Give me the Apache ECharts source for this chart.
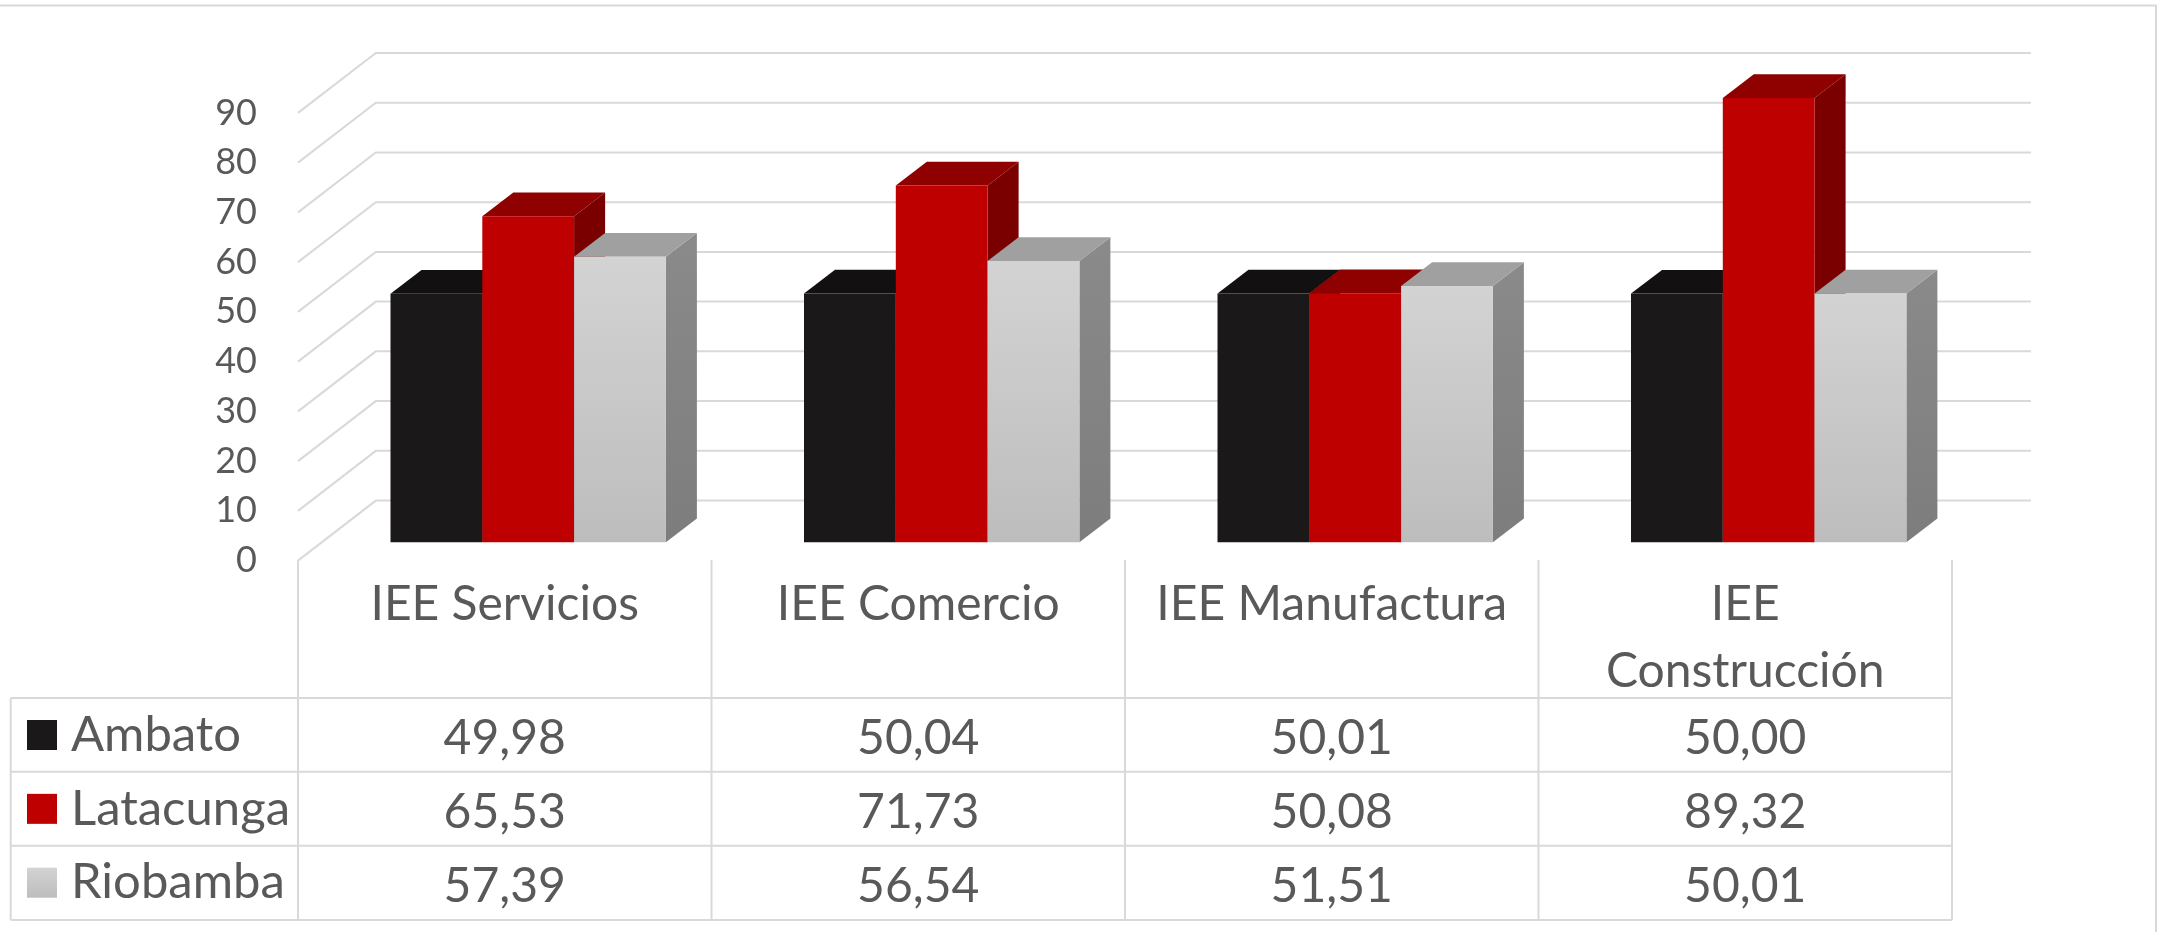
<!DOCTYPE html>
<html>
<head>
<meta charset="utf-8">
<style>
  html, body { margin: 0; padding: 0; background: #fff; }
  #chart { width: 2162px; height: 932px; }
</style>
<script src="https://cdn.jsdelivr.net/npm/echarts@6/dist/echarts.min.js"></script>
</head>
<body>
<div id="chart"></div>
<script>
const categories = ["IEE Servicios", "IEE Comercio", "IEE Manufactura", "IEE\nConstrucción"];
const cityNames = ["Ambato", "Latacunga", "Riobamba"];
const ambato = [49.98, 50.04, 50.01, 50.00];
const latacunga = [65.53, 71.73, 50.08, 89.32];
const riobamba = [57.39, 56.54, 51.51, 50.01];
const ambatoLabels = ["49,98", "50,04", "50,01", "50,00"];
const latacungaLabels = ["65,53", "71,73", "50,08", "89,32"];
const riobambaLabels = ["57,39", "56,54", "51,51", "50,01"];
const yTicks = [0, 10, 20, 30, 40, 50, 60, 70, 80, 90];

const FONT = "Lato";
const TEXT = "#595959";
const LINE = "#d9d9d9";
const GRID = { left: 298, right: 2162 - 1952, top: 112.9, bottom: 932 - 560.6 };
const WALL_DX = 77.8;
const WALL_DY = 60;
const WALL_RIGHT = 2031;
// bar front face sits part way into the floor, bar has its own depth
const BAR_OFFSET_X = 23.45;
const BAR_OFFSET_Y = 18.3;
const BAR_DX = 31;
const BAR_DY = 23.7;
const BAR_RATIO = 0.222;
const ROW_Y = [698, 771.7, 845.7, 920];

const grad = (top, bottom) => new echarts.graphic.LinearGradient(0, 0, 0, 1, [
  { offset: 0, color: top },
  { offset: 1, color: bottom },
]);

const barSeries = (name, values, slot, front, topFace, side) => ({
  name,
  type: "custom",
  coordinateSystem: "cartesian2d",
  clip: false,
  z: 3,
  itemStyle: { color: front },
  encode: { x: 0, y: 1 },
  data: values.map((v, i) => [i, v]),
  renderItem: (params, api) => {
    const top = api.coord([api.value(0), api.value(1)]);
    const base = api.coord([api.value(0), 0]);
    const w = api.size([1, 0])[0] * BAR_RATIO;
    const x0 = top[0] + BAR_OFFSET_X + (slot - 1.5) * w;
    const x1 = x0 + w;
    const y0 = top[1] - BAR_OFFSET_Y;
    const y1 = base[1] - BAR_OFFSET_Y;
    return {
      type: "group",
      children: [
        { type: "polygon", shape: { points: [[x1, y0], [x1 + BAR_DX, y0 - BAR_DY], [x1 + BAR_DX, y1 - BAR_DY], [x1, y1]] }, style: { fill: side } },
        { type: "polygon", shape: { points: [[x0, y0], [x0 + BAR_DX, y0 - BAR_DY], [x1 + BAR_DX, y0 - BAR_DY], [x1, y0]] }, style: { fill: topFace } },
        { type: "rect", shape: { x: x0, y: y0, width: w, height: y1 - y0 }, style: { fill: front } },
      ],
    };
  },
});

const chart = echarts.init(document.getElementById("chart"), null, { renderer: "canvas" });

const tableCells = [];
[ambatoLabels, latacungaLabels, riobambaLabels].forEach((row, r) => {
  row.forEach((text, c) => tableCells.push([c, r, text]));
});

chart.setOption({
  animation: false,
  backgroundColor: "#fff",
  grid: GRID,
  legend: {
    orient: "vertical",
    left: 27,
    top: 710.5,
    padding: 0,
    icon: "rect",
    itemWidth: 30,
    itemHeight: 30,
    itemGap: 24.85,
    data: cityNames,
    textStyle: { fontFamily: FONT, fontSize: 49, color: TEXT, padding: [0, 0, 0, 9] },
  },
  xAxis: {
    type: "category",
    data: categories,
    axisLine: { show: false },
    axisTick: { show: false },
    splitLine: { show: false },
    axisLabel: { interval: 0, margin: 10, fontFamily: FONT, fontSize: 48, color: TEXT, lineHeight: 67 },
  },
  yAxis: {
    type: "value",
    min: 0,
    max: 90,
    interval: 10,
    axisLine: { show: false },
    axisTick: { show: false },
    splitLine: { show: false },
    axisLabel: { margin: 41, fontFamily: FONT, fontSize: 36, color: TEXT, padding: [10, 0, 0, 0] },
  },
  graphic: [
    // outer frame and data table rules
    { type: "polyline", silent: true, shape: { points: [[0, 5.5], [2156, 5.5], [2156, 932]] }, style: { stroke: LINE, lineWidth: 2, fill: null } },
    ...ROW_Y.map((y) => ({ type: "line", silent: true, shape: { x1: 10.7, y1: y, x2: 1952, y2: y }, style: { stroke: LINE, lineWidth: 2 } })),
    { type: "line", silent: true, shape: { x1: 10.7, y1: 698, x2: 10.7, y2: 920 }, style: { stroke: LINE, lineWidth: 2 } },
    ...[0, 1, 2, 3, 4].map((i) => {
      const x = GRID.left + i * (2162 - GRID.left - GRID.right) / 4;
      return { type: "line", silent: true, shape: { x1: x, y1: 560, x2: x, y2: 920 }, style: { stroke: LINE, lineWidth: 2 } };
    }),
  ],
  series: [
    {
      name: "walls",
      type: "custom",
      coordinateSystem: "cartesian2d",
      clip: false,
      silent: true,
      z: 1,
      encode: { x: 0, y: 1 },
      data: yTicks.map((t) => [0, t]),
      renderItem: (params, api) => {
        const front = api.coord([0, api.value(1)]);
        const x = GRID.left;
        const y = front[1];
        return {
          type: "polyline",
          shape: { points: [[x, y], [x + WALL_DX, y - WALL_DY], [WALL_RIGHT, y - WALL_DY]] },
          style: { stroke: LINE, lineWidth: 2, fill: null },
        };
      },
    },
    barSeries(cityNames[0], ambato, 0, "#1a1819", "#121011", "#121011"),
    barSeries(cityNames[1], latacunga, 1, "#bf0000", "#8f0000", "#7a0000"),
    barSeries(cityNames[2], riobamba, 2, grad("#d3d3d3", "#bdbdbd"), "#a0a0a0", grad("#8a8a8a", "#7d7d7d")),
    {
      name: "table",
      type: "custom",
      coordinateSystem: "cartesian2d",
      clip: false,
      silent: true,
      z: 2,
      encode: { x: 0 },
      data: tableCells,
      renderItem: (params, api) => {
        const cell = tableCells[params.dataIndex];
        const x = api.coord([cell[0], 0])[0];
        return {
          type: "text",
          style: {
            text: cell[2],
            x,
            y: (ROW_Y[cell[1]] + ROW_Y[cell[1] + 1]) / 2 + 3.5,
            textAlign: "center",
            textVerticalAlign: "middle",
            fontFamily: FONT,
            fontSize: 48,
            fill: TEXT,
          },
        };
      },
    },
  ],
});
</script>
</body>
</html>
